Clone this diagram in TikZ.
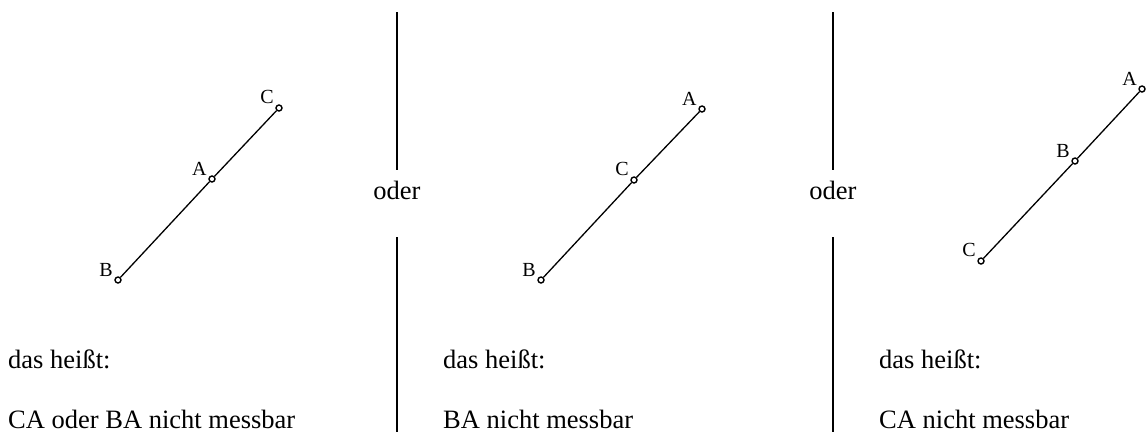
\documentclass[tikz,border=0pt]{standalone}
\usepackage{fontspec}
\setmainfont{Liberation Serif}
\usetikzlibrary{positioning}

\begin{document}
\begin{tikzpicture}[x=1pt,y=-1pt,
  pt/.style={circle,draw=black,fill=white,line width=1.4pt,minimum size=6pt,inner sep=0pt},
  lbl/.style={inner sep=0pt,font=\fontsize{20}{22}\selectfont},
  txt/.style={inner sep=0pt,anchor=base west,font=\fontsize{26.5}{31}\selectfont}]
  \useasboundingbox (0,0) rectangle (1146,432);

  % Punkte
  \node[pt] (C1) at (279,108) {};
  \node[pt] (A1) at (212,179) {};
  \node[pt] (B1) at (118,280) {};
  \node[pt] (A2) at (702,109) {};
  \node[pt] (C2) at (634,180) {};
  \node[pt] (B2) at (541,280) {};
  \node[pt] (A3) at (1142,89) {};
  \node[pt] (B3) at (1075,161) {};
  \node[pt] (C3) at (981,261) {};

  % Strecken
  \foreach \from/\to in {B1/A1, A1/C1, B2/C2, C2/A2, C3/B3, B3/A3}
    \draw[line width=1.3pt] (\from) -- (\to);

  % Beschriftung
  \foreach \p/\t in {C1/C, A1/A, B1/B, A2/A, C2/C, B2/B, A3/A, B3/B, C3/C}
    \node[lbl, above left=1pt and 2.5pt of \p] (l\p) {\t};

  % Trennlinien
  \foreach \x/\n in {397/1, 833/2} {
    \coordinate (o\n) at (\x,12);
    \coordinate (m\n) at (\x,170);
    \coordinate (u\n) at (\x,237);
    \coordinate (e\n) at (\x,432);
    \draw[line width=2pt] (o\n) -- (m\n);
    \draw[line width=2pt] (u\n) -- (e\n);
    \node[txt, anchor=base] (oder\n) at (\x,199) {oder};
  }

  % Text
  \node[txt] (h1) at (8,368) {das heißt:};
  \node[txt] (h2) at (443,368) {das heißt:};
  \node[txt] (h3) at (879,368) {das heißt:};
  \node[txt] (n1) at (8,428) {CA oder BA nicht messbar};
  \node[txt] (n2) at (443,428) {BA nicht messbar};
  \node[txt] (n3) at (879,428) {CA nicht messbar};
\end{tikzpicture}
\end{document}
